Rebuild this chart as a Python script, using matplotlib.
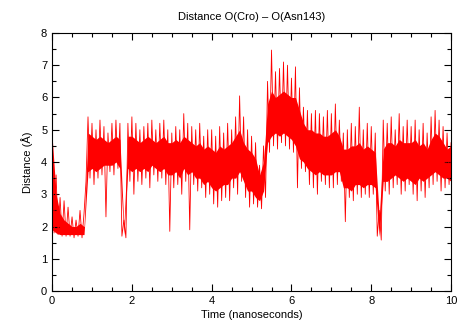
import numpy as np
import matplotlib.pyplot as plt
from matplotlib.ticker import MultipleLocator

plt.rcParams['font.family'] = ['Liberation Sans', 'DejaVu Sans']

# extremes, one pair per 0.1 ns
# peaks at t = 0.0, 0.1, ... 10.0 ; troughs at t = 0.05, 0.15, ... 9.95
peaks = [
    5.05, 3.6, 2.9, 2.8, 2.6, 2.3, 2.2, 2.5, 2.4, 5.4,
    5.2, 5.0, 5.3, 5.1, 4.9, 5.2, 5.3, 5.2, 2.2, 5.2,
    5.4, 5.2, 5.0, 5.1, 5.2, 5.3, 5.0, 5.2, 5.3, 5.0,
    4.9, 5.1, 5.0, 5.5, 5.2, 5.1, 5.0, 5.2, 4.8, 5.0,
    5.0, 4.8, 5.1, 4.9, 5.2, 5.0, 5.4, 6.05, 5.4, 5.0,
    4.8, 4.6, 3.9, 4.5, 6.5, 7.47, 6.8, 6.9, 7.1, 7.0,
    6.6, 6.95, 6.3, 5.7, 5.6, 5.5, 5.6, 5.5, 5.4, 5.6,
    5.5, 5.8, 5.3, 4.9, 5.0, 5.2, 5.1, 5.7, 5.0, 5.2,
    5.1, 4.9, 2.5, 5.3, 5.2, 5.4, 5.0, 5.5, 5.1, 5.3,
    5.1, 5.3, 5.0, 5.2, 4.9, 5.4, 5.6, 5.3, 5.1, 4.9,
    4.6,
]
troughs = [
    1.8, 1.75, 1.7, 1.7, 1.7, 1.65, 1.7, 1.65, 3.4, 3.5,
    3.3, 3.5, 3.6, 2.3, 3.7, 3.6, 3.8, 1.7, 1.65, 3.4,
    3.0, 3.4, 3.3, 3.5, 3.2, 3.6, 3.4, 3.5, 3.3, 1.85,
    3.2, 3.3, 3.0, 3.4, 1.9, 3.3, 3.1, 3.2, 2.9, 3.0,
    2.7, 2.6, 2.8, 2.9, 2.8, 3.2, 3.0, 3.4, 2.9, 2.6,
    2.7, 2.6, 2.55, 2.9, 4.3, 4.5, 4.4, 4.6, 4.5, 4.4,
    4.3, 3.2, 3.8, 3.7, 3.3, 3.2, 3.0, 3.4, 3.3, 3.2,
    3.2, 3.3, 3.4, 2.15, 2.9, 2.8, 3.0, 2.9, 3.0, 2.9,
    3.0, 1.7, 1.58, 3.1, 3.0, 3.2, 3.3, 3.0, 3.1, 3.3,
    3.0, 2.8, 3.1, 2.9, 3.2, 3.3, 3.4, 3.1, 3.2, 3.3,
]
# dense core of the trace at t = 0.0, 0.1, ... 10.0
core_top = [
    4.8, 3.0, 2.4, 2.2, 2.1, 2.0, 2.0, 2.1, 2.0, 4.9,
    4.8, 4.7, 4.8, 4.7, 4.6, 4.7, 4.8, 4.7, 2.0, 4.8,
    4.8, 4.7, 4.6, 4.7, 4.8, 4.7, 4.6, 4.7, 4.8, 4.6,
    4.6, 4.7, 4.6, 4.8, 4.7, 4.6, 4.5, 4.6, 4.4, 4.5,
    4.4, 4.3, 4.5, 4.4, 4.5, 4.6, 4.8, 5.0, 4.6, 4.4,
    4.3, 4.1, 3.6, 4.0, 5.8, 6.2, 6.0, 6.1, 6.2, 6.1,
    6.0, 6.0, 5.6, 5.2, 5.0, 5.0, 4.9, 4.9, 4.8, 4.8,
    4.9, 5.0, 4.8, 4.4, 4.4, 4.5, 4.5, 4.6, 4.4, 4.5,
    4.4, 4.3, 2.3, 4.4, 4.6, 4.6, 4.5, 4.7, 4.6, 4.6,
    4.6, 4.7, 4.5, 4.6, 4.4, 4.7, 4.9, 4.8, 4.6, 4.4,
    4.5,
]
core_bot = [
    1.9, 1.8, 1.75, 1.75, 1.75, 1.75, 1.75, 1.75, 1.75, 3.7,
    3.8, 3.7, 3.8, 3.9, 3.9, 3.9, 4.0, 3.8, 1.75, 3.8,
    3.7, 3.8, 3.7, 3.8, 3.7, 3.9, 3.8, 3.7, 3.8, 3.6,
    3.6, 3.7, 3.5, 3.8, 3.6, 3.7, 3.5, 3.5, 3.3, 3.4,
    3.2, 3.1, 3.2, 3.3, 3.3, 3.5, 3.5, 3.7, 3.4, 3.1,
    3.1, 2.9, 2.8, 3.1, 4.6, 4.8, 4.9, 4.8, 4.9, 4.8,
    4.7, 4.5, 4.1, 4.0, 3.8, 3.7, 3.6, 3.7, 3.6, 3.6,
    3.6, 3.7, 3.7, 3.2, 3.2, 3.1, 3.3, 3.3, 3.2, 3.3,
    3.3, 3.2, 1.7, 3.4, 3.4, 3.5, 3.6, 3.5, 3.4, 3.5,
    3.4, 3.3, 3.5, 3.4, 3.5, 3.6, 3.7, 3.6, 3.5, 3.5,
    3.4,
]

t_core = np.arange(len(core_top)) * 0.1
t_zig = np.empty(len(peaks) + len(troughs))
y_zig = np.empty_like(t_zig)
t_zig[0::2] = np.arange(len(peaks)) * 0.1
t_zig[1::2] = np.arange(len(troughs)) * 0.1 + 0.05
y_zig[0::2] = peaks
y_zig[1::2] = troughs

fig = plt.figure(figsize=(4.57, 3.33), dpi=100)
ax = fig.add_axes([0.114, 0.126, 0.873, 0.775])

ax.fill_between(t_core, core_bot, core_top, color='red', lw=0)
ax.plot(t_zig, y_zig, color='red', lw=0.6)

ax.set_xlim(0, 10)
ax.set_ylim(0, 8)
ax.xaxis.set_major_locator(MultipleLocator(2))
ax.xaxis.set_minor_locator(MultipleLocator(0.5))
ax.yaxis.set_major_locator(MultipleLocator(1))
ax.yaxis.set_minor_locator(MultipleLocator(0.5))
ax.tick_params(which='both', direction='in', top=True, right=True, labelsize=8, width=0.8)
ax.tick_params(which='major', length=5)
ax.tick_params(which='minor', length=3)

ax.set_title('Distance O(Cro) \u2013 O(Asn143)', fontsize=8, pad=9)
ax.set_xlabel('Time (nanoseconds)', fontsize=8, labelpad=3)
ax.set_ylabel('Distance (\u00c5)', fontsize=8, labelpad=6)

fig.savefig('out.png', dpi=100)
